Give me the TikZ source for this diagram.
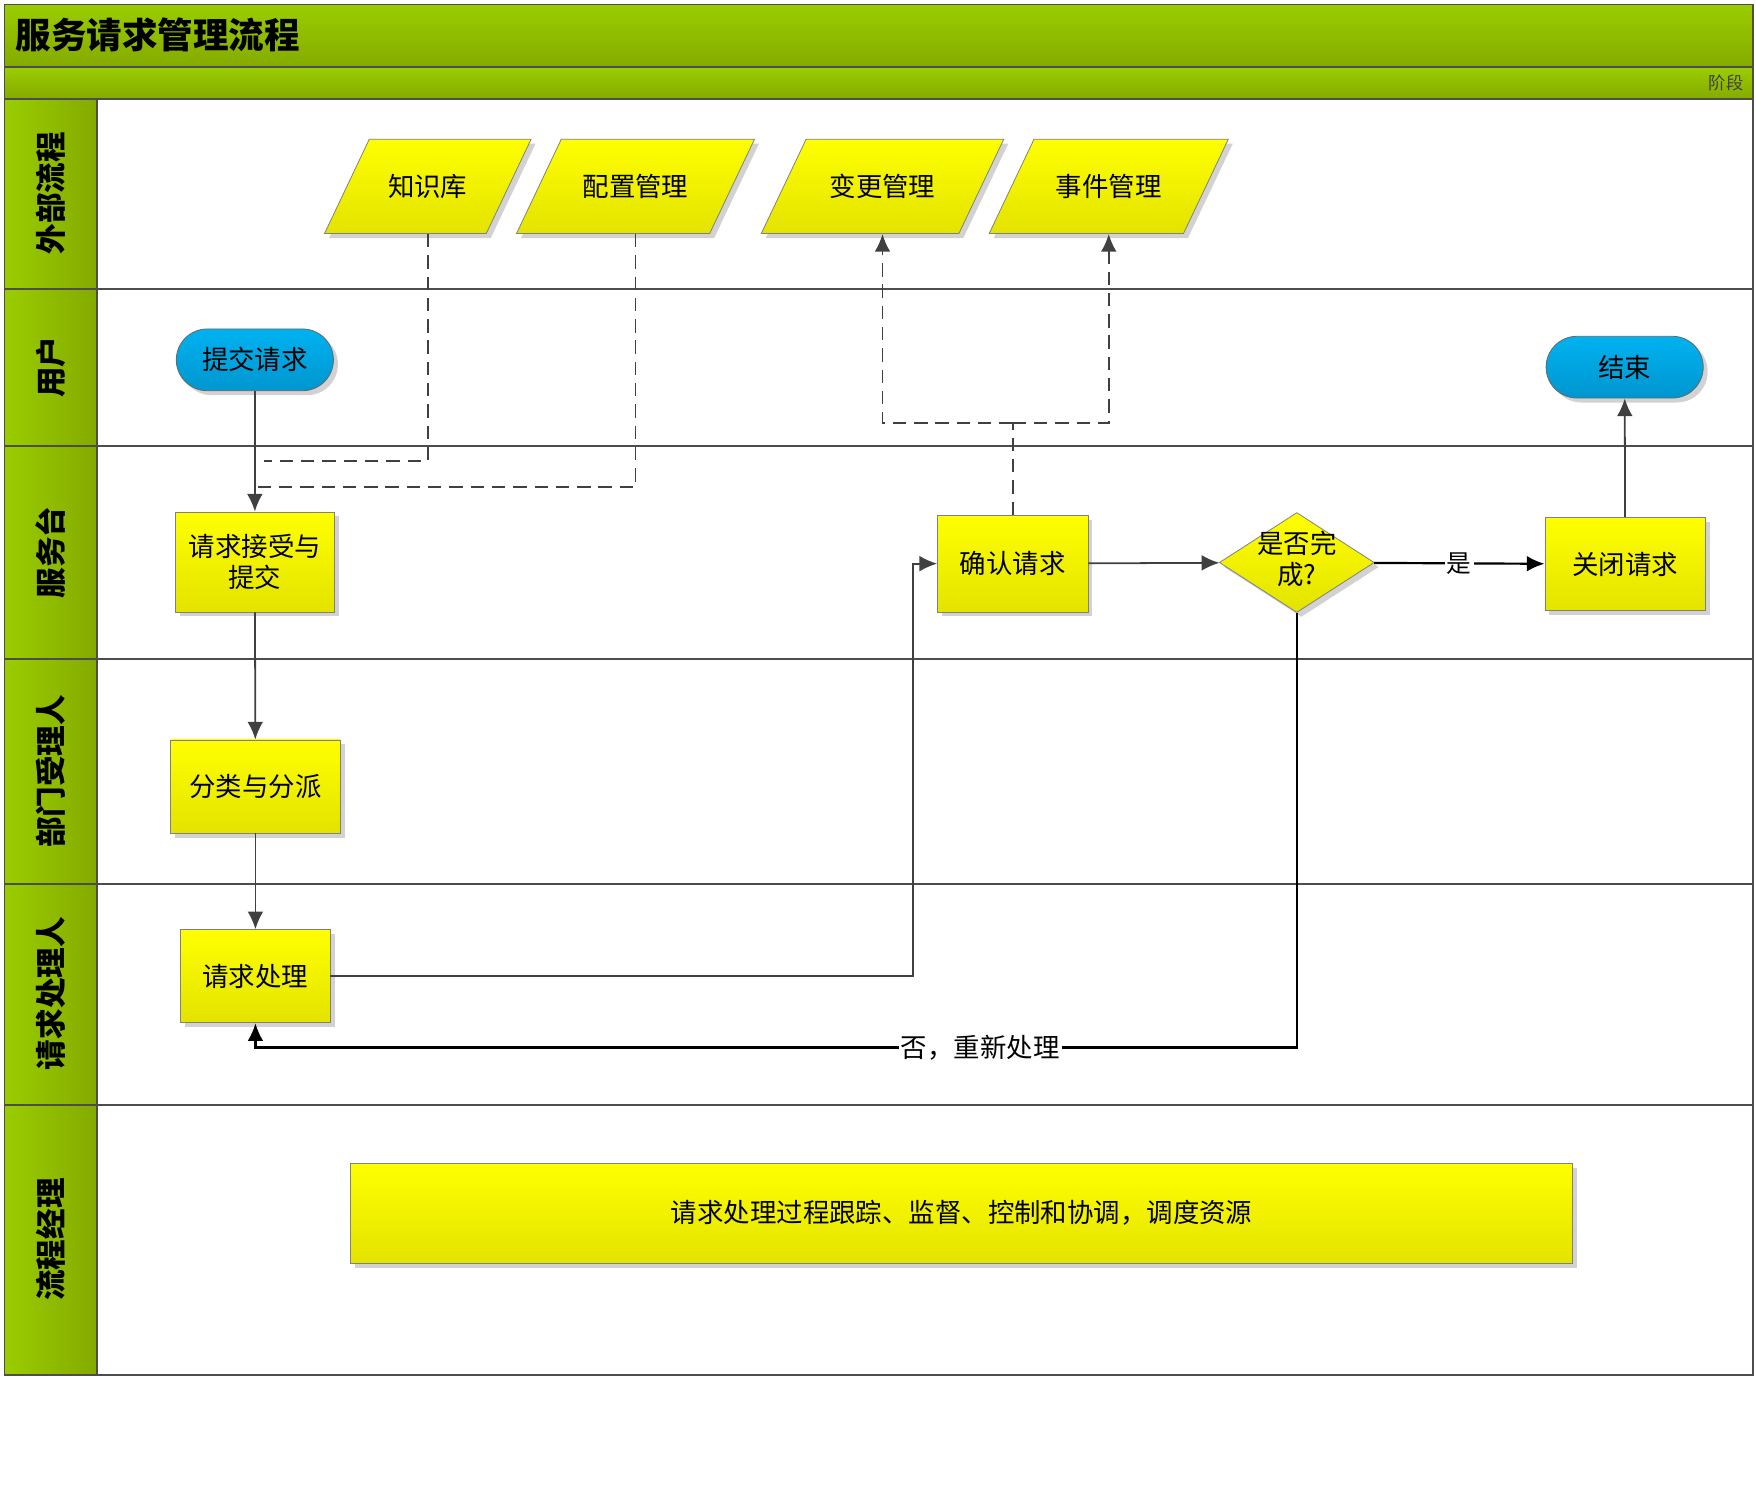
\documentclass[tikz,border=0pt]{standalone}
\usepackage{fontspec}
\setmainfont{Noto Sans CJK SC}
\usetikzlibrary{shapes.geometric,shadows,arrows.meta}
\definecolor{lanegreen}{HTML}{9ACD00}
\definecolor{lanedark}{HTML}{84AA00}
\definecolor{boxtop}{HTML}{FFFF00}
\definecolor{boxbot}{HTML}{E3E300}
\definecolor{termtop}{HTML}{00B2F0}
\definecolor{termbot}{HTML}{0096CF}
\definecolor{linegray}{HTML}{404040}
\definecolor{framegray}{HTML}{4D4D4D}
\tikzset{
  boxshadow/.style={drop shadow={shadow xshift=0.08cm, shadow yshift=-0.08cm, fill=black!22, opacity=0.8}},
  proc/.style={rectangle, draw=gray, top color=boxtop, bottom color=boxbot, boxshadow,
    font=\fontsize{13.4}{16}\selectfont, align=center, inner sep=0pt},
  io/.style={proc, trapezium, trapezium left angle=64, trapezium right angle=116,
    trapezium stretches body=true, inner xsep=0pt, inner ysep=0.6cm, minimum height=1.68cm},
  decision/.style={proc, diamond, minimum width=2.76cm, minimum height=1.78cm},
  term/.style={rectangle, rounded corners=0.55cm, draw=black!60, top color=termtop, bottom color=termbot,
    boxshadow, font=\fontsize{13.4}{16}\selectfont, minimum width=2.8cm, minimum height=1.1cm},
  lanelabel/.style={rotate=90, font=\bfseries\fontsize{15.5}{18}\selectfont},
  flow/.style={draw=linegray, line width=0.9pt, -{Latex[length=9pt,width=8pt]}},
  flowdark/.style={flow, draw=black, line width=1.1pt},
  dashline/.style={draw=linegray, line width=1pt, dash pattern=on 6.8pt off 4pt},
  dasharrow/.style={dashline, -{Latex[length=9pt,width=8pt]}}
}
\begin{document}
\begin{tikzpicture}[x=0.02cm, y=-0.02cm]
\useasboundingbox (0,0) rectangle (1564,1333.3);
% frame and lanes
\fill[top color=lanegreen, bottom color=lanedark] (4,4) rectangle (1561,60);
\fill[top color=lanegreen, bottom color=lanedark] (4,60) rectangle (1561,88);
\fill[left color=lanegreen, right color=lanedark] (4,88) rectangle (86,1225);
\foreach \y in {60,88,257,397,587,787,984}
  \draw[framegray, line width=1pt] (4,\y) -- (1561,\y);
\draw[framegray, line width=1pt] (86,88) -- (86,1225);
\draw[framegray, line width=1pt] (4,4) rectangle (1561,1225);
\node[anchor=west, font=\bfseries\fontsize{18}{20}\selectfont] (title) at (8,31) {服务请求管理流程};
\node[anchor=east, text=black!75, font=\fontsize{8.8}{10}\selectfont] (phase) at (1559,73.5) {阶段};
\foreach \y/\t [count=\i] in {172/外部流程, 327/用户, 492/服务台, 687/部门受理人, 885/请求处理人, 1104/流程经理}
  \node[lanelabel] (lane\i) at (45,\y) {\t};

% outside processes
\node[io, minimum width=3.68cm] (kb) at (381,166) {知识库};
\node[io, minimum width=4.24cm] (cfg) at (566,166) {配置管理};
\node[io, minimum width=4.32cm] (chg) at (786,166) {变更管理};
\node[io, minimum width=4.26cm] (inc) at (987.5,166) {事件管理};

% main flow
\node[term] (submit) at (227,320.5) {提交请求};
\node[term] (end) at (1447,327) {结束};
\node[proc, minimum width=2.84cm, minimum height=1.78cm] (accept) at (227,500.5) {请求接受与\\提交};
\node[proc, minimum width=2.68cm, minimum height=1.72cm] (confirm) at (902,502) {确认请求};
\node[decision] (check) at (1155,501) {\makebox[0pt]{\begin{tabular}{@{}c@{}}是否完\\成?\end{tabular}}};
\node[proc, minimum width=2.86cm, minimum height=1.66cm] (close) at (1447.5,502.5) {关闭请求};
\node[proc, minimum width=3.02cm, minimum height=1.66cm] (classify) at (227.5,700.5) {分类与分派};
\node[proc, minimum width=2.66cm, minimum height=1.66cm] (handle) at (227.5,869.5) {请求处理};
\node[proc, minimum width=21.78cm, minimum height=1.78cm] (track) at (856.5,1080.5) {请求处理过程跟踪、监督、控制和协调，调度资源};

% connectors
\coordinate (kbend) at (235,411);
\coordinate (cfgend) at (229,434);
\coordinate (split) at (902,377);
\coordinate (turn) at (813,869.5);
\coordinate (back) at (1155,933);
\draw[dashline] (kb.center |- kb.south) |- (kbend);
\draw[dashline] (cfg.center |- cfg.south) |- (cfgend);
\draw[dashline] (confirm.north) -- (split);
\draw[dasharrow] (split) -| (chg.center |- chg.south);
\draw[dasharrow] (split) -| (inc.center |- inc.south);
\draw[flow] (submit) -- (accept);
\draw[flow] (accept) -- (classify);
\draw[flow] (classify) -- (handle);
\draw[flow] (handle.east) -- (turn) |- (confirm.west);
\draw[flow] (confirm) -- (check);
\draw[flowdark] (check) -- (close) node[midway, fill=white, inner sep=1pt, font=\fontsize{12.5}{14}\selectfont] (yes) {是};
\draw[flowdark] (check.south) -- (back) -| (handle.south)
  node[pos=0.152, fill=white, inner sep=1pt, font=\fontsize{13.4}{16}\selectfont] (no) {否，重新处理};
\draw[flow] (close) -- (end);
\end{tikzpicture}
\end{document}
